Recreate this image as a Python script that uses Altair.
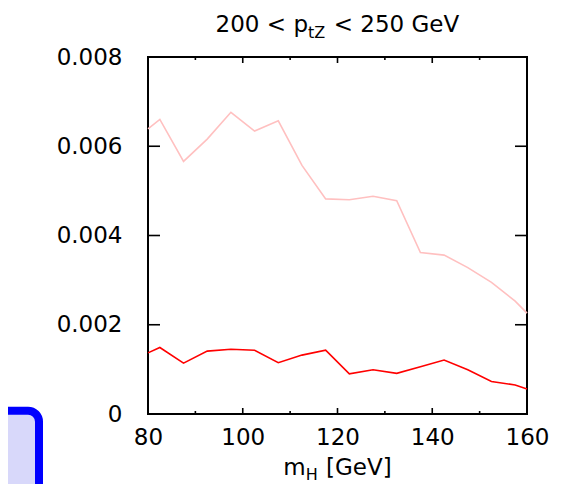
import altair as alt
import pandas as pd

# ---- data ----
mh = [80, 82.5, 87.5, 92.5, 97.5, 102.5, 107.5, 112.5, 117.5, 122.5,
      127.5, 132.5, 137.5, 142.5, 147.5, 152.5, 157.5, 160]
upper = [0.00639, 0.00660, 0.00566, 0.00616, 0.00676, 0.00634, 0.00657, 0.00557,
         0.00482, 0.00480, 0.00488, 0.00478, 0.00362, 0.00356, 0.00328, 0.00295,
         0.00253, 0.00226]
lower = [0.00137, 0.00149, 0.00114, 0.00141, 0.00145, 0.00143, 0.00115, 0.00132,
         0.00143, 0.00090, 0.00099, 0.00091, 0.00106, 0.00121, 0.00099, 0.00073,
         0.00065, 0.00056]
x_major = [80, 100, 120, 140, 160]
x_minor = [90, 110, 130, 150]
y_major = [0, 0.002, 0.004, 0.006, 0.008]

F = "DejaVu Sans"
FS = 23
SUB = 16
W, H = 379, 357

df = pd.DataFrame({"mh": mh, "upper": upper, "lower": lower})
one = pd.DataFrame({"k": [0]})

xs = alt.Scale(domain=[80, 160], nice=False, zero=False)
ys = alt.Scale(domain=[0, 0.008], nice=False)

x_axis = alt.Axis(values=x_major, labelPadding=12, title=None, labelFlush=False,
                  labelOverlap=False, grid=False, domain=False, ticks=False,
                  labelFont=F, labelFontSize=FS, labelColor="black")
y_axis = alt.Axis(values=y_major, labelPadding=26, title=None, labelFlush=False,
                  labelOverlap=False, grid=False, domain=False, ticks=False,
                  labelFont=F, labelFontSize=FS, labelColor="black",
                  labelExpr="datum.value == 0 ? '0' : format(datum.value, '.3f')")

line_up = alt.Chart(df).mark_line(color="#ffc0c0", strokeWidth=1.6).encode(
    x=alt.X("mh:Q", scale=xs, axis=x_axis),
    y=alt.Y("upper:Q", scale=ys, axis=y_axis),
)
line_lo = alt.Chart(df).mark_line(color="#ff0000", strokeWidth=1.6).encode(
    x=alt.X("mh:Q", scale=xs, axis=x_axis),
    y=alt.Y("lower:Q", scale=ys, axis=y_axis),
)


def xticks(vals, y1, y2):
    return alt.Chart(pd.DataFrame({"mh": vals})).mark_rule(color="black", strokeWidth=1.6).encode(
        x=alt.X("mh:Q", scale=xs, axis=x_axis), y=alt.value(y1), y2=alt.value(y2))


def yticks(vals, x1, x2):
    return alt.Chart(pd.DataFrame({"upper": vals})).mark_rule(color="black", strokeWidth=1.6).encode(
        y=alt.Y("upper:Q", scale=ys, axis=y_axis), x=alt.value(x1), x2=alt.value(x2))


ticks = [
    xticks(x_major, H, H - 6), xticks(x_major, 0, 6),
    xticks(x_minor, H, H - 3), xticks(x_minor, 0, 3),
    yticks(y_major, 0, 12), yticks(y_major, W - 12, W),
]


def txt(s, x, y, align, size=FS):
    return alt.Chart(one).mark_text(text=s, align=align, baseline="alphabetic",
                                    font=F, fontSize=size, color="black").encode(
        x=alt.value(x), y=alt.value(y))


title = [
    txt("200 < p", 160, -25, "right"),
    txt("tZ", 160, -19, "left", SUB),
    txt("< 250 GeV", 185.7, -25, "left"),
]
xtitle = [
    txt("m", 157.7, 418, "right"),
    txt("H", 157.7, 423, "left", SUB),
    txt("[GeV]", 178, 418, "left"),
]

box = alt.Chart(one).mark_rect(fill="#d8d8fa", stroke="#0000ff", strokeWidth=8,
                               cornerRadius=11).encode(
    x=alt.value(-200), x2=alt.value(-109), y=alt.value(353.7), y2=alt.value(520))

chart = alt.layer(
    line_up, line_lo, *ticks, box, *title, *xtitle
).properties(
    width=W, height=H,
    autosize=alt.AutoSizeParams(type="none"),
    padding={"left": 140, "top": 49, "right": 36, "bottom": 70},
).configure_view(
    stroke="black", strokeWidth=2
)

chart.save("out.html", embed_options={"renderer": "svg", "actions": False})
